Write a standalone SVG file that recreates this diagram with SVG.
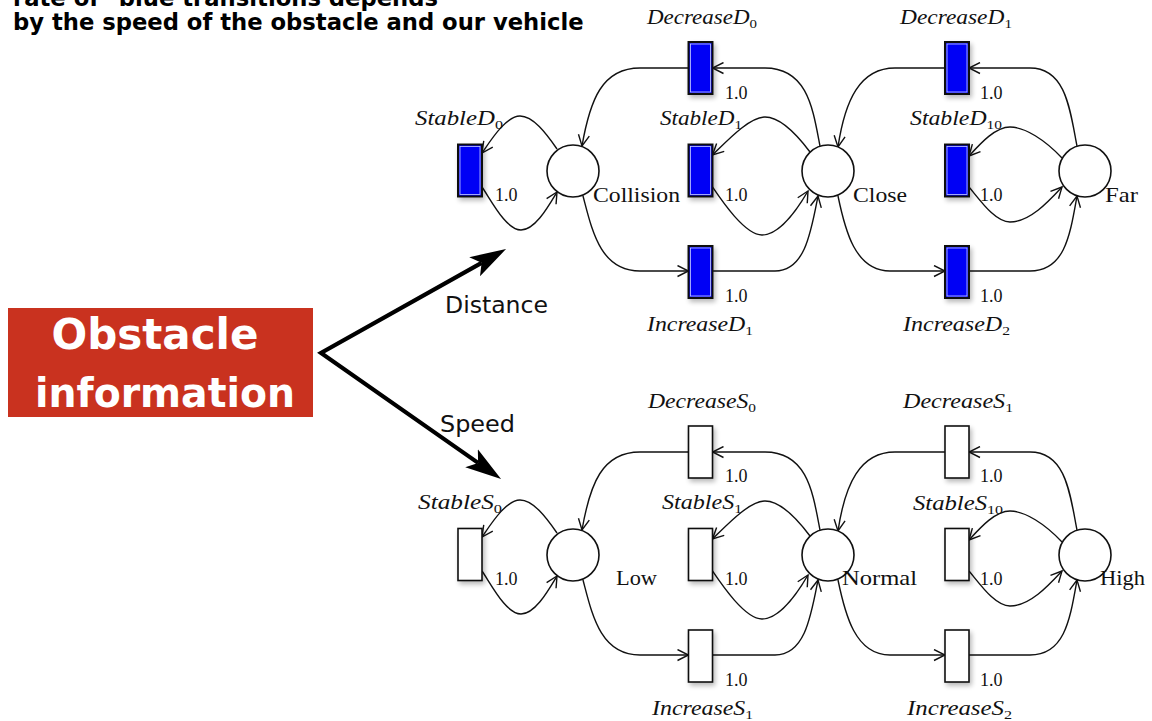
<svg xmlns="http://www.w3.org/2000/svg" width="1152" height="721" viewBox="0 0 1152 721">
  <style>
    .head { font-family: "DejaVu Sans", sans-serif; font-weight: bold; font-size: 22.7px; fill: #000; }
    .side { font-family: "DejaVu Sans", sans-serif; font-size: 23px; fill: #111; }
    .box-text { font-family: "DejaVu Sans", sans-serif; font-weight: bold; fill: #fff; text-anchor: middle; }
    .tname { font-family: "Liberation Serif", serif; font-style: italic; font-size: 20px; fill: #111; }
    .sub { font-size: 13px; font-style: normal; }
    .pname { font-family: "Liberation Serif", serif; font-size: 22px; fill: #111; }
    .w { font-family: "Liberation Serif", serif; font-size: 18px; fill: #111; }
    .place { fill: #fff; stroke: #111; stroke-width: 1.6; }
    .tr-blue { fill: #0000f5; stroke: #111; stroke-width: 2; }
    .tr-hl { fill: none; stroke: #c9d0ff; stroke-width: 0.8; }
    .tr-white { fill: #fff; stroke: #111; stroke-width: 1.6; }
    .arc { fill: none; stroke: #111; stroke-width: 1.4; marker-end: url(#open); }
    .big { fill: none; stroke: #000; stroke-width: 4.2; stroke-linejoin: miter; marker-start: url(#solid); marker-end: url(#solid); }
  </style>
  <defs>
    <marker id="open" markerUnits="userSpaceOnUse" viewBox="0 0 13 13" refX="12" refY="6.5" markerWidth="13" markerHeight="13" orient="auto">
      <path d="M1,1 L12,6.5 L1,12" fill="none" stroke="#111" stroke-width="1.4"/>
    </marker>
    <marker id="solid" markerUnits="userSpaceOnUse" viewBox="0 -12 40 24" refX="8" refY="0" markerWidth="40" markerHeight="24" orient="auto-start-reverse">
      <path d="M0,-11 L36,0 L0,11 L8,0 Z" fill="#000"/>
    </marker>
    <filter id="shadow" x="-40%" y="-30%" width="180%" height="160%">
      <feGaussianBlur in="SourceAlpha" stdDeviation="2.5"/>
      <feOffset dx="2" dy="3" result="b"/>
      <feComponentTransfer><feFuncA type="linear" slope="0.28"/></feComponentTransfer>
      <feMerge><feMergeNode/><feMergeNode in="SourceGraphic"/></feMerge>
    </filter>
  </defs>

  <rect width="1152" height="721" fill="#fff"/>

  <!-- heading (first line runs off the top edge) -->
  <g id="heading">
    <text class="head" x="13" y="6">rate of "blue transitions depends</text>
    <text class="head" x="13" y="30">by the speed of the obstacle and our vehicle</text>
  </g>

  <!-- source box -->
  <g id="obstacle-info">
    <rect x="8" y="308" width="305" height="109" fill="#c9321f"/>
    <text class="box-text" x="155" y="349" font-size="42">Obstacle</text>
    <text class="box-text" x="165" y="407" font-size="41" textLength="260" lengthAdjust="spacingAndGlyphs">information</text>
  </g>

  <!-- connectors -->
  <g id="connectors">
    <path class="big" d="M481.6,262.8 L321,353 L478.1,462.9"/>
    <text class="side" x="445" y="313" textLength="103" lengthAdjust="spacingAndGlyphs">Distance</text>
    <text class="side" x="440" y="432" textLength="75" lengthAdjust="spacingAndGlyphs">Speed</text>

    <!-- distance net arcs -->
    <g id="distance-arcs">
      <path class="arc" d="M557,149 C546,133 533,116 520,116 C506,116 491,140 482,153"/>
      <path class="arc" d="M482,187 C491,200 506,230 521,230 C535,230 548,207 557,192"/>
      <path class="arc" d="M820,146 C813,110 808,68 765,68 L712.5,68"/>
      <path class="arc" d="M688.5,68 L640,68 C602,68 590,100 582,146"/>
      <path class="arc" d="M810,152 C798,136 781,117 765,117 C749,117 726,142 712.5,155"/>
      <path class="arc" d="M712.5,187 C722,201 745,235 762,235 C779,235 797,210 808,191"/>
      <path class="arc" d="M583,196 C592,230 600,271 640,271 L688.5,271"/>
      <path class="arc" d="M712.5,271 L775,271 C805,271 811,232 818,196"/>
      <path class="arc" d="M1062,158 C1045,140 1025,127 1010,127 C995,127 980,144 969,156"/>
      <path class="arc" d="M969,187 C980,200 995,222 1010,222 C1030,222 1049,201 1062,187"/>
      <path class="arc" d="M1077,146 C1070,110 1066,68 1030,68 L969,68"/>
      <path class="arc" d="M945,68 L895,68 C860,68 845,100 838,147"/>
      <path class="arc" d="M838,196 C845,230 855,271 890,271 L945,271"/>
      <path class="arc" d="M969,271 L1030,271 C1065,271 1070,235 1077,196"/>
    </g>

    <!-- speed net arcs -->
    <g id="speed-arcs" transform="translate(0,384)">
      <path class="arc" d="M557,149 C546,133 533,116 520,116 C506,116 491,140 482,153"/>
      <path class="arc" d="M482,187 C491,200 506,230 521,230 C535,230 548,207 557,192"/>
      <path class="arc" d="M820,146 C813,110 808,68 765,68 L712.5,68"/>
      <path class="arc" d="M688.5,68 L640,68 C602,68 590,100 582,146"/>
      <path class="arc" d="M810,152 C798,136 781,117 765,117 C749,117 726,142 712.5,155"/>
      <path class="arc" d="M712.5,187 C722,201 745,235 762,235 C779,235 797,210 808,191"/>
      <path class="arc" d="M583,196 C592,230 600,271 640,271 L688.5,271"/>
      <path class="arc" d="M712.5,271 L775,271 C805,271 811,232 818,196"/>
      <path class="arc" d="M1062,158 C1045,140 1025,127 1010,127 C995,127 980,144 969,156"/>
      <path class="arc" d="M969,187 C980,200 995,222 1010,222 C1030,222 1049,201 1062,187"/>
      <path class="arc" d="M1077,146 C1070,110 1066,68 1030,68 L969,68"/>
      <path class="arc" d="M945,68 L895,68 C860,68 845,100 838,147"/>
      <path class="arc" d="M838,196 C845,230 855,271 890,271 L945,271"/>
      <path class="arc" d="M969,271 L1030,271 C1065,271 1070,235 1077,196"/>
    </g>
  </g>

  <!-- distance net: places -->
  <g id="collision">
    <circle class="place" cx="573" cy="171" r="26"/>
    <text class="pname" x="593" y="202" textLength="87" lengthAdjust="spacingAndGlyphs">Collision</text>
  </g>
  <g id="close">
    <circle class="place" cx="828" cy="171" r="26"/>
    <text class="pname" x="853" y="202" textLength="54" lengthAdjust="spacingAndGlyphs">Close</text>
  </g>
  <g id="far">
    <circle class="place" cx="1085" cy="171" r="26"/>
    <text class="pname" x="1105" y="202" textLength="33" lengthAdjust="spacingAndGlyphs">Far</text>
  </g>

  <!-- distance net: transitions -->
  <g id="stable-d0">
    <g filter="url(#shadow)"><rect class="tr-blue" x="458" y="144.5" width="24" height="52"/></g>
    <rect class="tr-hl" x="460" y="146.5" width="20" height="48"/>
    <text class="tname" x="415" y="125" textLength="88" lengthAdjust="spacingAndGlyphs">StableD<tspan class="sub" dy="4">0</tspan></text>
    <text class="w" x="495" y="201">1.0</text>
  </g>
  <g id="decrease-d0">
    <g filter="url(#shadow)"><rect class="tr-blue" x="688.5" y="42" width="24" height="52"/></g>
    <rect class="tr-hl" x="690.5" y="44" width="20" height="48"/>
    <text class="tname" x="647" y="24" textLength="110" lengthAdjust="spacingAndGlyphs">DecreaseD<tspan class="sub" dy="4">0</tspan></text>
    <text class="w" x="725" y="99">1.0</text>
  </g>
  <g id="stable-d1">
    <g filter="url(#shadow)"><rect class="tr-blue" x="688.5" y="144.5" width="24" height="52"/></g>
    <rect class="tr-hl" x="690.5" y="146.5" width="20" height="48"/>
    <text class="tname" x="660" y="125" textLength="82" lengthAdjust="spacingAndGlyphs">StableD<tspan class="sub" dy="4">1</tspan></text>
    <text class="w" x="725" y="201">1.0</text>
  </g>
  <g id="increase-d1">
    <g filter="url(#shadow)"><rect class="tr-blue" x="688.5" y="246" width="24" height="52"/></g>
    <rect class="tr-hl" x="690.5" y="248" width="20" height="48"/>
    <text class="tname" x="647" y="331" textLength="106" lengthAdjust="spacingAndGlyphs">IncreaseD<tspan class="sub" dy="4">1</tspan></text>
    <text class="w" x="725" y="302">1.0</text>
  </g>
  <g id="decrease-d1">
    <g filter="url(#shadow)"><rect class="tr-blue" x="945" y="42" width="24" height="52"/></g>
    <rect class="tr-hl" x="947" y="44" width="20" height="48"/>
    <text class="tname" x="900" y="24" textLength="112" lengthAdjust="spacingAndGlyphs">DecreaseD<tspan class="sub" dy="4">1</tspan></text>
    <text class="w" x="980" y="99">1.0</text>
  </g>
  <g id="stable-d10">
    <g filter="url(#shadow)"><rect class="tr-blue" x="945" y="144.5" width="24" height="52"/></g>
    <rect class="tr-hl" x="947" y="146.5" width="20" height="48"/>
    <text class="tname" x="910" y="125" textLength="92" lengthAdjust="spacingAndGlyphs">StableD<tspan class="sub" dy="4">10</tspan></text>
    <text class="w" x="980" y="201">1.0</text>
  </g>
  <g id="increase-d2">
    <g filter="url(#shadow)"><rect class="tr-blue" x="945" y="246" width="24" height="52"/></g>
    <rect class="tr-hl" x="947" y="248" width="20" height="48"/>
    <text class="tname" x="903" y="331" textLength="107" lengthAdjust="spacingAndGlyphs">IncreaseD<tspan class="sub" dy="4">2</tspan></text>
    <text class="w" x="980" y="302">1.0</text>
  </g>

  <!-- speed net: places -->
  <g id="low">
    <circle class="place" cx="573" cy="555" r="26"/>
    <text class="pname" x="616" y="585" textLength="41" lengthAdjust="spacingAndGlyphs">Low</text>
  </g>
  <g id="normal">
    <circle class="place" cx="828" cy="555" r="26"/>
    <text class="pname" x="842" y="585" textLength="75" lengthAdjust="spacingAndGlyphs">Normal</text>
  </g>
  <g id="high">
    <circle class="place" cx="1085" cy="555" r="26"/>
    <text class="pname" x="1100" y="585" textLength="45" lengthAdjust="spacingAndGlyphs">High</text>
  </g>

  <!-- speed net: transitions -->
  <g id="stable-s0">
    <g filter="url(#shadow)"><rect class="tr-white" x="458" y="528.5" width="24" height="52"/></g>
    <text class="tname" x="418" y="509" textLength="84" lengthAdjust="spacingAndGlyphs">StableS<tspan class="sub" dy="4">0</tspan></text>
    <text class="w" x="495" y="585">1.0</text>
  </g>
  <g id="decrease-s0">
    <g filter="url(#shadow)"><rect class="tr-white" x="688.5" y="426" width="24" height="52"/></g>
    <text class="tname" x="648" y="408" textLength="108" lengthAdjust="spacingAndGlyphs">DecreaseS<tspan class="sub" dy="4">0</tspan></text>
    <text class="w" x="725" y="482">1.0</text>
  </g>
  <g id="stable-s1">
    <g filter="url(#shadow)"><rect class="tr-white" x="688.5" y="528.5" width="24" height="52"/></g>
    <text class="tname" x="662" y="509" textLength="80" lengthAdjust="spacingAndGlyphs">StableS<tspan class="sub" dy="4">1</tspan></text>
    <text class="w" x="725" y="585">1.0</text>
  </g>
  <g id="increase-s1">
    <g filter="url(#shadow)"><rect class="tr-white" x="688.5" y="630" width="24" height="52"/></g>
    <text class="tname" x="652" y="715" textLength="101" lengthAdjust="spacingAndGlyphs">IncreaseS<tspan class="sub" dy="4">1</tspan></text>
    <text class="w" x="725" y="686">1.0</text>
  </g>
  <g id="decrease-s1">
    <g filter="url(#shadow)"><rect class="tr-white" x="945" y="426" width="24" height="52"/></g>
    <text class="tname" x="903" y="408" textLength="110" lengthAdjust="spacingAndGlyphs">DecreaseS<tspan class="sub" dy="4">1</tspan></text>
    <text class="w" x="980" y="482">1.0</text>
  </g>
  <g id="stable-s10">
    <g filter="url(#shadow)"><rect class="tr-white" x="945" y="528.5" width="24" height="52"/></g>
    <text class="tname" x="913" y="510" textLength="90" lengthAdjust="spacingAndGlyphs">StableS<tspan class="sub" dy="4">10</tspan></text>
    <text class="w" x="980" y="585">1.0</text>
  </g>
  <g id="increase-s2">
    <g filter="url(#shadow)"><rect class="tr-white" x="945" y="630" width="24" height="52"/></g>
    <text class="tname" x="907" y="715" textLength="105" lengthAdjust="spacingAndGlyphs">IncreaseS<tspan class="sub" dy="4">2</tspan></text>
    <text class="w" x="980" y="686">1.0</text>
  </g>
</svg>
